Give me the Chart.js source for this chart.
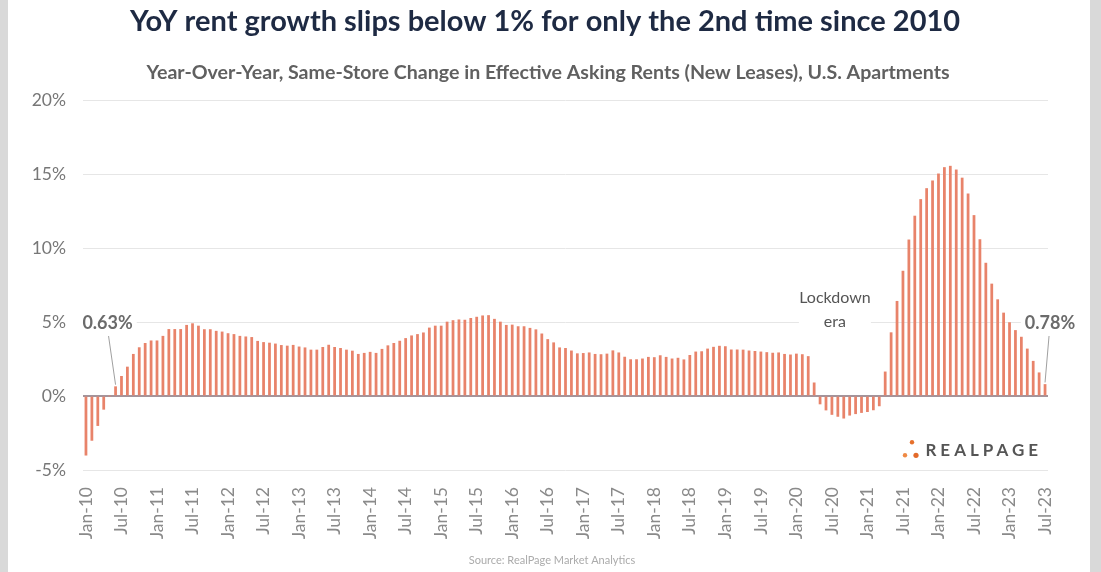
<!DOCTYPE html>
<html>
<head>
<meta charset="utf-8">
<title>YoY rent growth</title>
<script src="https://cdn.jsdelivr.net/npm/chart.js@4/dist/chart.umd.min.js"></script>
<style>
  html, body { margin: 0; padding: 0; background: #d9d9d9; }
  #wrap { width: 1101px; height: 572px; }
</style>
</head>
<body>
<div id="wrap"><canvas id="chart" width="1101" height="572"></canvas></div>
<script>
// Month names and years used to build the monthly categories
const monthNames = ['Jan','Feb','Mar','Apr','May','Jun','Jul','Aug','Sep','Oct','Nov','Dec'];
const years = ['10','11','12','13','14','15','16','17','18','19','20','21','22','23'];

// Labels shown on the x axis (every six months)
const tickLabels = [
  'Jan-10','Jul-10','Jan-11','Jul-11','Jan-12','Jul-12','Jan-13','Jul-13',
  'Jan-14','Jul-14','Jan-15','Jul-15','Jan-16','Jul-16','Jan-17','Jul-17',
  'Jan-18','Jul-18','Jan-19','Jul-19','Jan-20','Jul-20','Jan-21','Jul-21',
  'Jan-22','Jul-22','Jan-23','Jul-23'
];

// Y axis ticks (percent)
const yTicks = [-5, 0, 5, 10, 15, 20];

// Year-over-year change in effective asking rents, % (Jan-10 .. Jul-23)
const rentGrowth = [
  -4.0, -3.0, -2.0, -0.9, 0.0, 0.63, 1.33, 1.96, 2.82, 3.27, 3.56, 3.73,      // 2010
  3.73, 4.04, 4.5, 4.5, 4.5, 4.78, 4.89, 4.73, 4.49, 4.49, 4.38, 4.33,         // 2011
  4.22, 4.16, 4.04, 4.0, 3.96, 3.7, 3.62, 3.58, 3.52, 3.42, 3.38, 3.43,        // 2012
  3.32, 3.26, 3.11, 3.11, 3.29, 3.44, 3.29, 3.22, 3.11, 3.04, 2.82, 2.89,      // 2013
  2.96, 2.89, 3.16, 3.4, 3.56, 3.71, 3.89, 4.07, 4.16, 4.27, 4.6, 4.73,        // 2014
  4.73, 5.0, 5.1, 5.15, 5.13, 5.25, 5.33, 5.42, 5.44, 5.19, 5.0, 4.78,         // 2015
  4.8, 4.69, 4.69, 4.58, 4.48, 4.2, 3.82, 3.6, 3.26, 3.22, 3.05, 2.86,         // 2016
  2.88, 2.92, 2.82, 2.8, 2.84, 3.06, 2.92, 2.63, 2.46, 2.46, 2.51, 2.62,       // 2017
  2.6, 2.73, 2.62, 2.51, 2.56, 2.45, 2.75, 2.98, 3.0, 3.18, 3.3, 3.37,         // 2018
  3.34, 3.12, 3.12, 3.11, 3.05, 3.02, 2.98, 2.94, 2.9, 2.92, 2.82, 2.78,       // 2019
  2.84, 2.8, 2.67, 0.89, -0.54, -0.95, -1.25, -1.38, -1.5, -1.3, -1.2, -1.12,  // 2020
  -1.06, -0.94, -0.67, 1.63, 4.28, 6.4, 8.44, 10.55, 12.16, 13.28, 14.02, 14.54, // 2021
  15.01, 15.44, 15.53, 15.28, 14.73, 13.66, 12.2, 10.57, 8.98, 7.57, 6.51, 5.61, // 2022
  4.96, 4.43, 3.98, 3.18, 2.35, 1.57, 0.78                                       // 2023
];

// Monthly categories, one per value
const categories = [];
years.forEach(y => monthNames.forEach(m => {
  if (categories.length < rentGrowth.length) categories.push(m + '-' + y);
}));

// Callouts tied to particular months
const calloutFirst = { month: 'Jun-10', text: '0.63%' };
const calloutLast  = { month: 'Jul-23', text: '0.78%' };
const eraNote      = { month: 'Jul-20', lines: ['Lockdown', 'era'] };

const FONT = "Lato, 'Open Sans', sans-serif";

// Page background, white panel, headings, callouts, logo and source line
const decorations = {
  id: 'decorations',
  beforeDraw(chart) {
    const ctx = chart.ctx;
    ctx.save();
    ctx.fillStyle = '#d9d9d9';
    ctx.fillRect(0, 0, chart.width, chart.height);
    ctx.fillStyle = '#ffffff';
    ctx.fillRect(8, 0, 1082, chart.height);

    ctx.textAlign = 'center';
    ctx.textBaseline = 'middle';
    ctx.fillStyle = '#1e2a43';
    ctx.font = 'bold 29px ' + FONT;
    ctx.fillText('YoY rent growth slips below 1% for only the 2nd time since 2010', 545, 22);
    ctx.fillStyle = '#606060';
    ctx.font = 'bold 19.6px ' + FONT;
    ctx.fillText('Year-Over-Year, Same-Store Change in Effective Asking Rents (New Leases), U.S. Apartments', 548, 73);
    ctx.restore();
  },
  afterDatasetsDraw(chart) {
    const ctx = chart.ctx;
    const xs = chart.scales.x, ys = chart.scales.y;
    const val = m => rentGrowth[categories.indexOf(m)];
    ctx.save();

    // a labelled callout with a thin leader down to its bar
    const callout = (c, dx) => {
      const i = categories.indexOf(c.month);
      const bx = xs.getPixelForValue(i);
      const by = ys.getPixelForValue(val(c.month));
      const lx = bx + dx, ly = ys.getPixelForValue(5) + 1;
      ctx.font = 'bold 18px ' + FONT;
      const w = ctx.measureText(c.text).width;
      ctx.fillStyle = '#ffffff';
      ctx.fillRect(lx - w / 2 - 4, ly - 11, w + 8, 22);
      ctx.fillStyle = '#6b6b6b';
      ctx.textAlign = 'center';
      ctx.textBaseline = 'middle';
      ctx.fillText(c.text, lx, ly);
      ctx.strokeStyle = '#a0a0a0';
      ctx.lineWidth = 1;
      ctx.beginPath();
      ctx.moveTo(lx + (dx < 0 ? 1 : -1), ly + 13);
      ctx.lineTo(bx, by - 2);
      ctx.stroke();
    };
    callout(calloutFirst, -8);
    callout(calloutLast, 5);

    // lockdown note
    const ex = xs.getPixelForValue(categories.indexOf(eraNote.month)) + 3;
    const ey = ys.getPixelForValue(5);
    ctx.font = '16px ' + FONT;
    ctx.textAlign = 'center';
    ctx.textBaseline = 'middle';
    ctx.fillStyle = '#ffffff';
    ctx.fillRect(ex - 36, ey - 9, 72, 18);
    ctx.fillStyle = '#555555';
    ctx.fillText(eraNote.lines[0], ex, ey - 24);
    ctx.fillText(eraNote.lines[1], ex, ey);

    // logo
    const area = chart.chartArea;
    const logoY = ys.getPixelForValue(-3.6);
    ctx.font = 'bold 17px ' + FONT;
    ctx.letterSpacing = '4px';
    ctx.textAlign = 'right';
    ctx.fillStyle = '#555555';
    ctx.fillText('REALPAGE', area.right - 6, logoY + 1);
    ctx.letterSpacing = '0px';
    const dotX = area.right - 143;
    [[dotX + 7, logoY - 7, 2.2, '#e6702c'], [dotX, logoY + 6, 2.2, '#ef8a45'], [dotX + 11, logoY + 6, 2.6, '#e36a2a']].forEach(d => {
      ctx.fillStyle = d[3];
      ctx.beginPath();
      ctx.arc(d[0], d[1], d[2], 0, Math.PI * 2);
      ctx.fill();
    });

    // source line
    ctx.font = '11px ' + FONT;
    ctx.textAlign = 'center';
    ctx.fillStyle = '#ababab';
    ctx.fillText('Source: RealPage Market Analytics', 552, 560);
    ctx.restore();
  }
};

new Chart(document.getElementById('chart'), {
  type: 'bar',
  data: {
    labels: categories,
    datasets: [{
      data: rentGrowth,
      backgroundColor: '#e8836a',
      borderWidth: 0,
      barThickness: 2.1
    }]
  },
  options: {
    responsive: false,
    animation: false,
    devicePixelRatio: 1,
    layout: { padding: { left: 8, right: 53, top: 100, bottom: 0 } },
    plugins: { legend: { display: false }, tooltip: { enabled: false } },
    scales: {
      x: {
        type: 'category',
        offset: true,
        grid: { display: false },
        border: { display: false },
        ticks: {
          autoSkip: false,
          minRotation: 90,
          maxRotation: 90,
          padding: 9,
          color: '#8a8a8a',
          font: { family: FONT, size: 17.5 },
          callback: (v, i) => tickLabels.includes(categories[i]) ? categories[i] : ''
        },
        afterFit: s => { s.height = 102; }
      },
      y: {
        min: yTicks[0],
        max: yTicks[yTicks.length - 1],
        afterBuildTicks: s => { s.ticks = yTicks.map(v => ({ value: v })); },
        border: { display: false },
        grid: {
          drawTicks: false,
          color: c => c.tick.value === 0 ? '#a3949b' : '#e6e6e6',
          lineWidth: c => c.tick.value === 0 ? 2 : 1
        },
        ticks: {
          padding: 17,
          color: '#777777',
          font: { family: FONT, size: 17.5 },
          callback: v => v + '%'
        },
        afterFit: s => { s.width = 75; }
      }
    }
  },
  plugins: [decorations]
});
</script>
</body>
</html>
